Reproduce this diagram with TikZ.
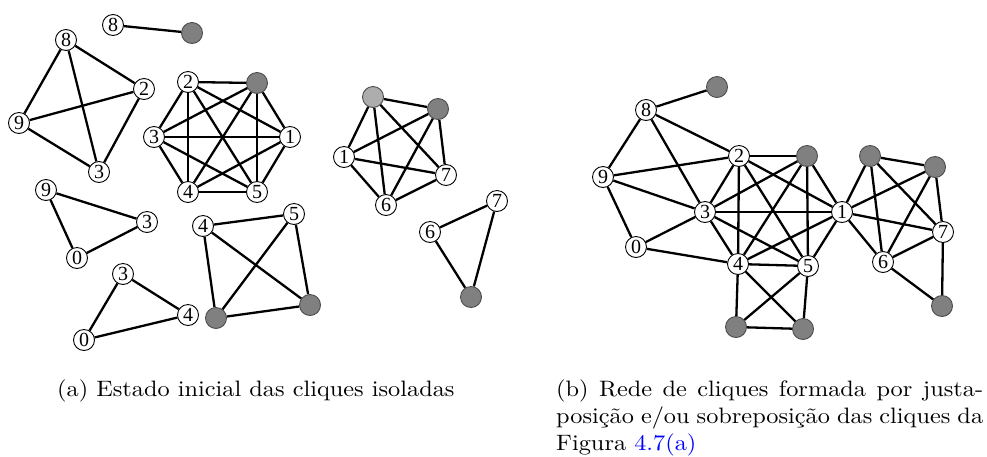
\documentclass[tikz,border=0pt]{standalone}
\usepackage{fontspec}
\usepackage{graphicx}
\newfontfamily\nodefont{Liberation Serif}
\newfontfamily\capfont{lmroman10-regular}[Extension=.otf]
\begin{document}
\begin{tikzpicture}[x=1pt,y=-1pt,
  vtx/.style={circle,draw=black,line width=0.9pt,fill=white,minimum size=21pt,inner sep=0pt,font=\nodefont\fontsize{20}{20}\selectfont},
  gv/.style={circle,draw=black!70,line width=0.9pt,fill=black!50,minimum size=21pt,inner sep=0pt},
  lgv/.style={gv,fill=black!32},
  edge/.style={line width=2.3pt,black},
  captext/.style={inner sep=0pt,font=\capfont\fontsize{22.3}{27.3}\selectfont}]
\useasboundingbox (0,0) rectangle (987,456);

% ---------- (a) ----------
\node[vtx] (t8) at (113,25) {8};
\node[gv]  (tg) at (192,33) {};

\node[vtx] (a8) at (66,40) {8};
\node[vtx] (a2) at (144,89) {2};
\node[vtx] (a9) at (19,123) {9};
\node[vtx] (a3) at (99,172) {3};

\node[vtx] (h2) at (188,82) {2};
\node[gv]  (hg) at (257,83) {};
\node[vtx] (h3) at (154,137) {3};
\node[vtx] (h1) at (290,137) {1};
\node[vtx] (h4) at (188,192) {4};
\node[vtx] (h5) at (257,192) {5};

\node[vtx] (b9) at (46,190) {9};
\node[vtx] (b3) at (147,222) {3};
\node[vtx] (b0) at (77,258) {0};

\node[vtx] (c3) at (123,274) {3};
\node[vtx] (c4) at (188,315) {4};
\node[vtx] (c0) at (84,340) {0};

\node[vtx] (s4) at (203,226) {4};
\node[vtx] (s5) at (294,214) {5};
\node[gv]  (sg1) at (216,318) {};
\node[gv]  (sg2) at (310,305) {};

\node[lgv] (pl) at (373,97) {};
\node[gv]  (pd) at (438,109) {};
\node[vtx] (p1) at (344,157) {1};
\node[vtx] (p7) at (446,175) {7};
\node[vtx] (p6) at (386,205) {6};

\node[vtx] (r7) at (497,201) {7};
\node[vtx] (r6) at (430,232) {6};
\node[gv]  (rg) at (471,297) {};

\foreach \u/\v in {t8/tg,
  a8/a2,a8/a9,a8/a3,a9/a2,a9/a3,a2/a3,
  h2/hg,h2/h3,h2/h1,h2/h4,h2/h5,hg/h3,hg/h1,hg/h4,hg/h5,h3/h1,h3/h4,h3/h5,h1/h4,h1/h5,h4/h5,
  b9/b3,b9/b0,b0/b3,
  c3/c4,c3/c0,c0/c4,
  s4/s5,s4/sg1,s4/sg2,s5/sg1,s5/sg2,sg1/sg2,
  pl/pd,pl/p1,pl/p6,pl/p7,pd/p1,pd/p6,pd/p7,p1/p7,p1/p6,p6/p7,
  r6/r7,r6/rg,r7/rg}
  \draw[edge] (\u) -- (\v);

% ---------- (b) ----------
\node[gv]  (gt) at (717,87) {};
\node[vtx] (n8) at (646,110) {8};
\node[vtx] (n9) at (603,177) {9};
\node[vtx] (n0) at (636,247) {0};
\node[vtx] (n2) at (739,156) {2};
\node[gv]  (ga) at (807,156) {};
\node[vtx] (n3) at (705,212) {3};
\node[vtx] (n1) at (842,212) {1};
\node[vtx] (n4) at (738,264) {4};
\node[vtx] (n5) at (808,266) {5};
\node[gv]  (gbl) at (736,327) {};
\node[gv]  (gbr) at (803,329) {};
\node[gv]  (gc) at (870,156) {};
\node[gv]  (gd) at (935,167) {};
\node[vtx] (n7) at (943,232) {7};
\node[vtx] (n6) at (883,262) {6};
\node[gv]  (ge) at (942,306) {};

\foreach \u/\v in {n8/gt,
  n8/n2,n8/n9,n8/n3,n9/n2,n9/n3,n2/n3,
  n9/n0,n0/n3,
  n0/n4,n3/n4,
  n2/ga,n2/n1,n2/n4,n2/n5,ga/n3,ga/n1,ga/n4,ga/n5,n3/n1,n3/n5,n1/n4,n1/n5,n4/n5,
  n4/gbl,n4/gbr,n5/gbl,n5/gbr,gbl/gbr,
  gc/gd,gc/n1,gc/n6,gc/n7,gd/n1,gd/n6,gd/n7,n1/n7,n1/n6,n6/n7,
  n6/ge,n7/ge}
  \draw[edge] (\u) -- (\v);

% ---------- captions ----------
\node[captext,anchor=base west] (capa) at (57,396)
  {\scalebox{1.09}[1]{(a) Estado inicial das cliques isoladas}};
\node[captext,anchor=base west] (capb) at (556,396)
  {\scalebox{1.09}[1]{\parbox[t]{391.7pt}{(b) Rede de cliques formada por justa-\linebreak posição e/ou sobreposição das cliques da\linebreak Figura \textcolor{blue}{4.7(a)}}}};
\end{tikzpicture}
\end{document}
